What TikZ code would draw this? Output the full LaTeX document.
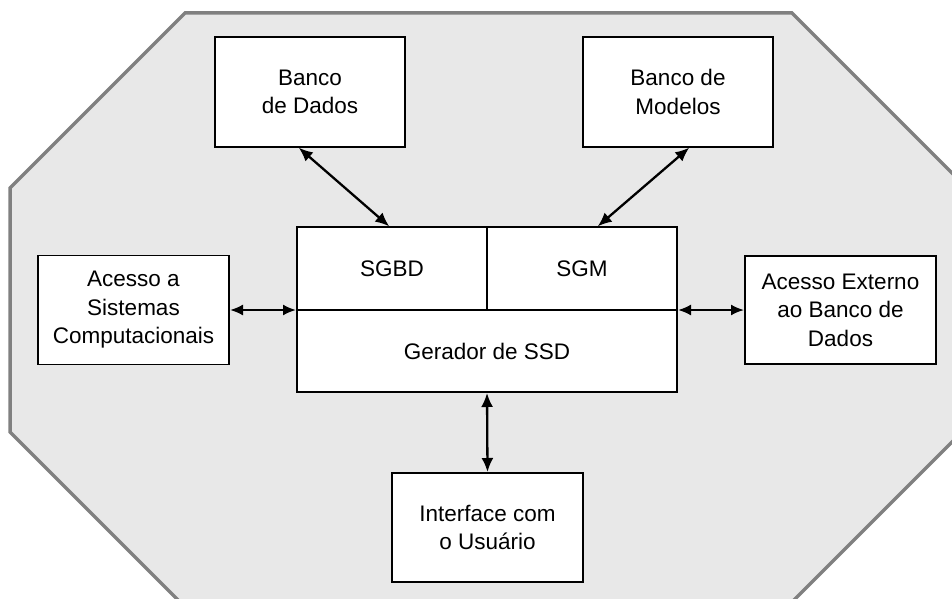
\documentclass[tikz,border=0pt]{standalone}
\usepackage{fontspec}
\setmainfont{Liberation Sans}
\usetikzlibrary{arrows.meta,calc}
\definecolor{panelfill}{HTML}{E8E8E8}
\definecolor{panelline}{HTML}{808080}
\begin{document}
\begin{tikzpicture}[x=1pt,y=-1pt,
  box/.style={draw=black,fill=white,line width=1.9pt,inner sep=0pt,outer sep=0pt,align=center,
    font=\fontsize{22.5}{28.5}\selectfont},
  link/.style={line width=2.3pt,shorten <=1pt,shorten >=1pt,
    {Latex[length=14pt,width=12pt]}-{Latex[length=14pt,width=12pt]}},
  hlink/.style={line width=2pt,shorten <=1pt,shorten >=1pt,
    {Latex[length=13pt,width=11pt]}-{Latex[length=13pt,width=11pt]}}]
\useasboundingbox (0,0) rectangle (952,599);
\begin{scope}
  \clip (0,0) rectangle (952,599);
  % octagonal frame around the system
  \draw[panelline,fill=panelfill,line width=3.5pt,line join=miter]
    (185,13) -- (792,13) -- (966,187) -- (966,428) -- (774,620)
    -- (198,620) -- (10,432) -- (10,188) -- cycle;
\end{scope}

% peripheral blocks
\node[box,minimum width=190pt,minimum height=110pt] (bd) at (310,92) {Banco\\de Dados};
\node[box,minimum width=190pt,minimum height=110pt] (bm) at (678,92) {Banco de\\Modelos};
\node[box,minimum width=191pt,minimum height=109pt] (as) at (133.5,310) {Acesso a\\Sistemas\\Computacionais};
\node[box,minimum width=191pt,minimum height=108pt] (ae) at (840.5,310) {Acesso Externo\\ao Banco de\\Dados};
\node[box,minimum width=191pt,minimum height=109pt] (iu) at (487.5,527.5) {Interface com\\o Usuário};

% central generator block
\node[box,minimum width=190pt,minimum height=83pt] (sgbd) at (392,268.5) {SGBD};
\node[box,minimum width=190pt,minimum height=83pt] (sgm) at (582,268.5) {SGM};
\node[box,minimum width=380pt,minimum height=82pt] (ger) at (487,351) {Gerador de SSD};

% connections
\draw[link] ([xshift=83pt]bd.south west) -- ([xshift=93pt]sgbd.north west);
\draw[link] ([xshift=107pt]bm.south west) -- ([xshift=110pt]sgm.north west);
\draw[hlink] (as.east) -- (sgbd.south west);
\draw[hlink] (sgm.south east) -- (ae.west);
\draw[link] (ger.south) -- (iu.north);
\end{tikzpicture}
\end{document}
